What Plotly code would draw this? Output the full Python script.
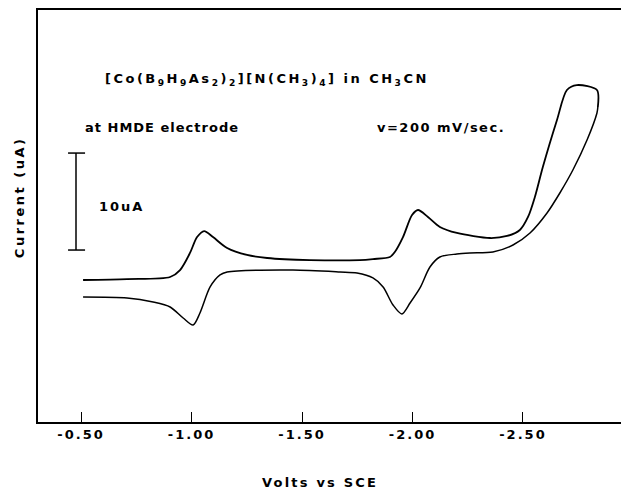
import plotly.graph_objects as go

# Forward (cathodic) scan, volts vs SCE and current in uA (arbitrary zero)
fwd_volts = [-0.509, -0.708, -0.903, -0.948, -0.993, -1.025, -1.057, -1.097, -1.161, -1.251,
             -1.342, -1.536, -1.762, -1.821, -1.898, -1.920, -1.957, -1.998, -2.025, -2.070,
             -2.124, -2.201, -2.351, -2.428, -2.486, -2.523, -2.554, -2.590, -2.654, -2.699,
             -2.744, -2.835, -2.839]
fwd_current = [2.06, 2.16, 2.37, 3.09, 4.85, 6.49, 7.11, 6.49, 5.36, 4.64,
               4.33, 4.12, 4.12, 4.22, 4.43, 4.95, 6.49, 8.76, 9.28, 8.56,
               7.53, 6.91, 6.39, 6.60, 7.22, 8.56, 10.62, 13.71, 18.56, 21.65,
               22.16, 21.65, 19.90]

# Reverse (anodic) scan
rev_volts = [-2.839, -2.835, -2.790, -2.726, -2.667, -2.609, -2.532, -2.455, -2.364, -2.260,
             -2.201, -2.124, -2.079, -2.034, -1.989, -1.952, -1.912, -1.867, -1.821, -1.749,
             -1.672, -1.459, -1.161, -1.129, -1.084, -1.038, -1.007, -0.962, -0.903, -0.826,
             -0.708, -0.509]
rev_current = [19.90, 19.28, 16.49, 13.40, 11.03, 8.97, 6.91, 5.67, 4.95, 4.85,
               4.74, 4.43, 3.40, 1.24, -0.31, -1.44, -0.52, 1.34, 2.27, 2.78,
               2.89, 3.09, 2.89, 2.58, 1.34, -1.34, -2.58, -1.86, -0.72, -0.21,
               0.21, 0.31]

tick_vals = [-0.5, -1.0, -1.5, -2.0, -2.5]
tick_text = ["-0.50", "-1.00", "-1.50", "-2.00", "-2.50"]

scale_bar_ua = 10.0
scale_bar_bottom = 5.15
scale_bar_volts = -0.477

FONT = "DejaVu Sans"


def spaced(s, px=2):
    return f'<span style="letter-spacing:{px}px">{s}</span>'


fig = go.Figure()
fig.add_trace(go.Scatter(x=fwd_volts, y=fwd_current, mode="lines",
                         line=dict(color="black", width=1.8, shape="spline", smoothing=0.8),
                         showlegend=False, hoverinfo="skip"))
fig.add_trace(go.Scatter(x=rev_volts, y=rev_current, mode="lines",
                         line=dict(color="black", width=1.5, shape="spline", smoothing=0.8),
                         showlegend=False, hoverinfo="skip"))

# scale bar
top = scale_bar_bottom + scale_bar_ua
fig.add_shape(type="line", x0=scale_bar_volts, x1=scale_bar_volts, y0=scale_bar_bottom, y1=top,
              line=dict(color="black", width=1.5))
for yy in (scale_bar_bottom, top):
    fig.add_shape(type="line", x0=scale_bar_volts + 0.036, x1=scale_bar_volts - 0.041, y0=yy, y1=yy,
                  line=dict(color="black", width=1.5))

ann_font = dict(family=FONT, size=13, color="black", weight="bold")
title_txt = ("[Co(B<sub>9</sub>H<sub>9</sub>As<sub>2</sub>)<sub>2</sub>]"
             "[N(CH<sub>3</sub>)<sub>4</sub>] in CH<sub>3</sub>CN")
fig.add_annotation(xref="paper", yref="paper", x=0.110, y=0.832, xanchor="left", yanchor="middle",
                   text=spaced(title_txt, 2.5), showarrow=False, font=ann_font)
fig.add_annotation(xref="paper", yref="paper", x=0.076, y=0.716, xanchor="left", yanchor="middle",
                   text=spaced("at HMDE electrode", 1), showarrow=False, font=ann_font)
fig.add_annotation(xref="paper", yref="paper", x=0.570, y=0.714, xanchor="left", yanchor="middle",
                   text=spaced("v=200 mV/sec.", 1.5), showarrow=False, font=ann_font)
fig.add_annotation(xref="paper", yref="paper", x=0.0998, y=0.522, xanchor="left", yanchor="middle",
                   text=spaced("10uA", 2), showarrow=False, font=ann_font)
fig.add_annotation(xref="paper", yref="paper", x=0.477, y=-0.146, xanchor="center", yanchor="middle",
                   text=spaced("Volts vs SCE", 2.2), showarrow=False, font=ann_font)
fig.add_annotation(xref="paper", yref="paper", x=-0.032, y=0.546, xanchor="center", yanchor="middle",
                   text=spaced("Current (uA)", 2.5), textangle=-90, showarrow=False, font=ann_font)

fig.update_xaxes(range=[-0.305, -2.98], tickvals=tick_vals,
                 ticktext=[spaced(t, 2) for t in tick_text],
                 ticks="inside", ticklen=10, tickcolor="black", tickwidth=1,
                 showline=True, linecolor="black", linewidth=1.5, mirror=True,
                 showgrid=False, zeroline=False,
                 tickfont=dict(family=FONT, size=13, color="black", weight="bold"))
fig.update_yaxes(range=[-12.58, 29.9], showticklabels=False, ticks="",
                 showline=True, linecolor="black", linewidth=1.5,
                 showgrid=False, zeroline=False)

# page body has an 8px margin, so the figure is 8px smaller than the window
fig.update_layout(width=621, height=481, margin=dict(l=30, r=0, t=2, b=67),
                  plot_bgcolor="white", paper_bgcolor="white")

fig.write_html("out.html")
